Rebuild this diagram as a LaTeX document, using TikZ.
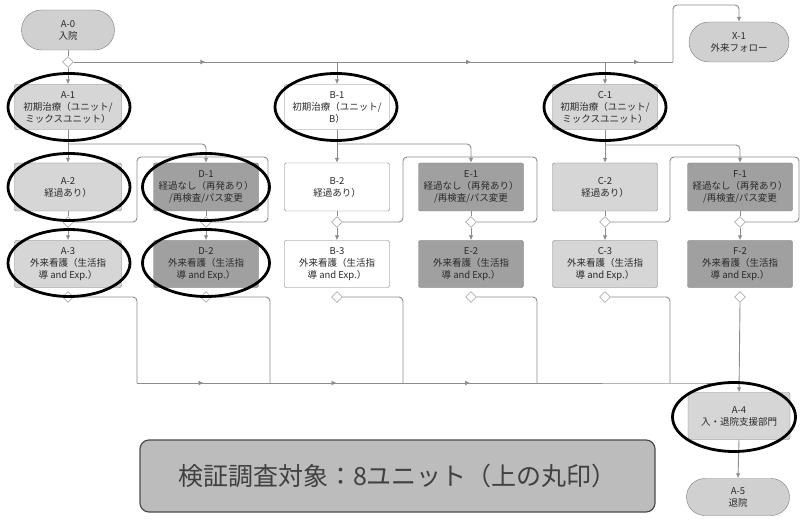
\documentclass[tikz,border=0pt]{standalone}
\usepackage{fontspec}
\setmainfont{Noto Sans CJK JP}
\usetikzlibrary{shapes.geometric,shapes.misc,arrows.meta,decorations.markings}
\definecolor{lightfill}{HTML}{D6D6D6}
\definecolor{darkfill}{HTML}{A0A0A0}
\definecolor{pillfill}{HTML}{D0D0D0}
\definecolor{connc}{HTML}{8C8C8C}
\definecolor{edgec}{HTML}{7A7A7A}
\definecolor{txtc}{HTML}{2A2A2A}
\definecolor{bannerc}{HTML}{BCBCBC}
\begin{document}
\begin{tikzpicture}[x=1pt,y=-1pt,
  every node/.style={font=\fontsize{9.5}{12}\selectfont, text=txtc},
  pill/.style={rounded rectangle, draw=edgec, fill=pillfill, minimum width=95pt, minimum height=40pt, align=center, inner sep=1pt},
  box/.style={rectangle, rounded corners=2pt, draw=edgec, minimum width=105pt, minimum height=47pt, align=center, inner sep=1pt},
  lbox/.style={box, fill=lightfill},
  dbox/.style={box, fill=darkfill},
  wbox/.style={box, fill=white},
  ring/.style={ellipse, draw=black, line width=2.8pt, minimum width=122pt, minimum height=67pt, inner sep=0pt},
  dia/.style={diamond, draw=edgec, fill=white, minimum size=11pt, inner sep=0pt},
  conn/.style={draw=connc, line width=0.9pt, rounded corners=4pt},
  arr/.style={conn, -{Latex[length=5pt,width=4.5pt]}},
  midarrow/.style={conn, postaction={decorate}, decoration={markings, mark=at position 0.5 with {\arrow[connc]{Latex[length=5pt,width=5pt]}}}},
]
\useasboundingbox (0,0) rectangle (802,526);
\fill[white] (0,0) rectangle (802,526);

% ---------- nodes ----------
\node[pill] (A0) at (68,30) {A-0\\入院};
\node[pill, minimum width=102pt] (X1) at (739,42) {X-1\\外来フォロー};
\node[dia] (d0) at (68,62) {};

\node[lbox, minimum width=107pt, minimum height=45pt] (A1) at (68,107) {A-1\\初期治療（ユニット/\\ミックスユニット）};
\node[wbox, minimum height=45pt] (B1) at (337,107) {B-1\\初期治療（ユニット/\\B）};
\node[lbox, minimum height=45pt] (C1) at (605,107) {C-1\\初期治療（ユニット/\\ミックスユニット）};

\node[lbox, minimum width=107pt, minimum height=48pt] (A2) at (68,187) {A-2\\経過あり）};
\node[dbox, minimum height=48pt] (D1) at (206,187) {D-1\\経過なし（再発あり）\\/再検査/パス変更};
\node[wbox, minimum height=48pt] (B2) at (337,187) {B-2\\経過あり）};
\node[dbox, minimum height=48pt] (E1) at (471,187) {E-1\\経過なし（再発あり）\\/再検査/パス変更};
\node[lbox, minimum height=48pt] (C2) at (605,187) {C-2\\経過あり）};
\node[dbox, minimum height=48pt] (F1) at (740,187) {F-1\\経過なし（再発あり）\\/再検査/パス変更};

\node[dia] (dA2) at (68,222) {};
\node[dia] (dD1) at (206,222) {};
\node[dia] (dB2) at (337,222) {};
\node[dia] (dE1) at (471,222) {};
\node[dia] (dC2) at (605,222) {};
\node[dia] (dF1) at (740,222) {};

\node[lbox, minimum width=107pt] (A3) at (68,264) {A-3\\外来看護（生活指\\導 and Exp.）};
\node[dbox] (D2) at (206,264) {D-2\\外来看護（生活指\\導 and Exp.）};
\node[wbox] (B3) at (337,264) {B-3\\外来看護（生活指\\導 and Exp.）};
\node[dbox] (E2) at (471,264) {E-2\\外来看護（生活指\\導 and Exp.）};
\node[lbox] (C3) at (605,264) {C-3\\外来看護（生活指\\導 and Exp.）};
\node[dbox] (F2) at (740,264) {F-2\\外来看護（生活指\\導 and Exp.）};

\node[dia] (dA3) at (68,297) {};
\node[dia] (dD2) at (206,297) {};
\node[dia] (dB3) at (337,297) {};
\node[dia] (dE2) at (471,297) {};
\node[dia] (dC3) at (605,297) {};
\node[dia] (dF2) at (740,297) {};

\node[lbox, minimum width=102pt] (A4) at (739,416) {A-4\\入・退院支援部門};
\node[pill, minimum width=105pt, minimum height=37pt] (A5) at (738,497) {A-5\\退院};

% ---------- junction coordinates ----------
\coordinate (tB) at (337,62);
\coordinate (tC) at (605,62);
\coordinate (tR) at (673,62);
\coordinate (tRup) at (673,5);
\coordinate (tX) at (739,5);
\coordinate (jA) at (68,144);
\coordinate (jB) at (337,144);
\coordinate (jC) at (605,145);
\foreach \n/\l/\r in {A/137/268, B/403/537, C/670/799}{
  \coordinate (L\n1) at (\l,222);
  \coordinate (L\n2) at (\l,157);
  \coordinate (L\n3) at (\r,157);
  \coordinate (L\n4) at (\r,222);
}
\coordinate (bA) at (137,383);
\coordinate (bD) at (270,383);
\coordinate (bB) at (403,383);
\coordinate (bE) at (537,383);
\coordinate (bC) at (670,383);
\coordinate (bF) at (740,383);

% ---------- connectors ----------
\draw[conn] (A0.south) -- (d0.north);
\draw[midarrow] (d0.east) -- (tB);
\draw[midarrow] (tB) -- (tC);
\draw[midarrow] (tC) -- (tR);
\draw[arr] (tR) -- (tRup) -- (tX) -- (X1.north);
\draw[arr] (d0.south) -- (A1.north);
\draw[arr] (tB) -- (B1.north);
\draw[arr] (tC) -- (C1.north);

\draw[arr] (A1.south) -- (A2.north);
\draw[arr] (B1.south) -- (B2.north);
\draw[arr] (C1.south) -- (C2.north);
\draw[arr] (jA) -| (D1.north);
\draw[arr] (jB) -| (E1.north);
\draw[arr] (jC) -| (F1.north);

\foreach \u/\d/\v in {A2/dA2/A3, D1/dD1/D2, B2/dB2/B3, E1/dE1/E2, C2/dC2/C3, F1/dF1/F2}{
  \draw[conn] (\u.south) -- (\d.north);
  \draw[arr] (\d.south) -- (\v.north);
}

\draw[conn] (dA2.east) -- (LA1) -- (LA2) -- (LA3) -- (LA4) -- (dD1.east);
\draw[conn] (dB2.east) -- (LB1) -- (LB2) -- (LB3) -- (LB4) -- (dE1.east);
\draw[conn] (dC2.east) -- (LC1) -- (LC2) -- (LC3) -- (LC4) -- (dF1.east);

\draw[conn] (dA3.east) -| (bA);
\draw[conn] (dD2.east) -| (bD);
\draw[conn] (dB3.east) -| (bB);
\draw[conn] (dE2.east) -| (bE);
\draw[conn] (dC3.east) -| (bC);
\draw[midarrow] (bA) -- (bD);
\draw[midarrow] (bD) -- (bB);
\draw[midarrow] (bB) -- (bE);
\draw[conn] (bE) -- (bC) -- (bF);
\draw[arr] (dF2.south) -- (A4.north);
\draw[arr] (A4.south) -- (A5.north);

% ---------- selection rings ----------
\node[ring] (A1r) at (69,107) {};
\node[ring, minimum width=122pt] (B1r) at (336,107) {};
\node[ring] (C1r) at (605,107) {};
\node[ring] (A2r) at (69,187) {};
\node[ring, minimum width=127pt] (D1r) at (206,187) {};
\node[ring] (A3r) at (69,263) {};
\node[ring, minimum width=127pt] (D2r) at (206,263) {};
\node[ring, minimum width=123pt, minimum height=69pt] (A4r) at (734,417) {};

% ---------- banner ----------
\node[draw=black!70, line width=1.2pt, fill=bannerc, rounded corners=9pt,
      minimum width=515pt, minimum height=72pt, text=black!75,
      font=\fontsize{25}{28}\selectfont] (ban) at (397.5,476) {検証調査対象：8ユニット（上の丸印）};
\end{tikzpicture}
\end{document}
